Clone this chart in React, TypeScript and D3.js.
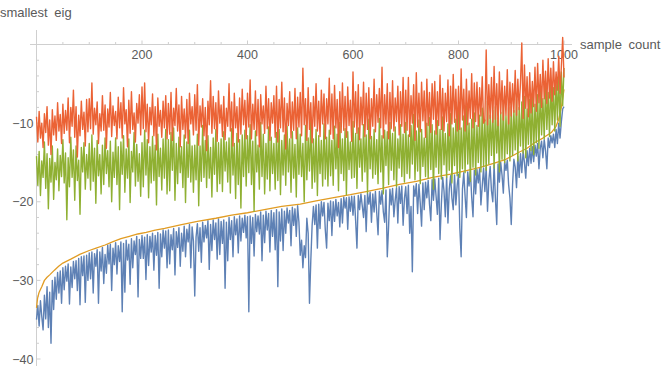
import * as d3 from "d3";

const W = 664;
const H = 369;

const COLORS = {
  blue: "#5E81B5",
  yellow: "#E19C24",
  green: "#8FB032",
  red: "#EB6235",
  axis: "#CFCFCF",
  text: "#5A5A5A",
};

// noisy series, read every 2.5 samples from 0 to 1000 (one row = 50 samples)
const redValues = [
  -9.2, -12.4, -8.5, -11.9, -10.0, -13.1, -8.8, -11.2, -7.9, -12.8, -9.6, -14.0, -8.3, -11.5, -9.1, -12.2, -7.4, -11.0, -8.9, -12.6,
  -7.6, -11.3, -8.4, -10.9, -6.8, -12.5, -8.0, -10.4, -5.8, -11.8, -7.9, -14.3, -9.0, -11.6, -7.2, -10.8, -8.6, -12.9, -7.0, -11.1,
  -6.9, -10.7, -4.9, -11.4, -8.1, -10.2, -7.3, -12.6, -8.8, -11.0, -6.5, -10.9, -7.7, -13.2, -8.2, -10.5, -6.1, -11.7, -7.8, -10.3,
  -8.5, -12.0, -6.7, -10.6, -7.4, -11.9, -5.5, -10.1, -8.3, -13.0, -7.1, -11.3, -6.0, -10.8, -8.7, -12.4, -7.5, -10.0, -6.4, -11.5,
  -5.4, -10.7, -4.9, -11.1, -7.6, -12.5, -8.0, -10.2, -6.3, -11.6, -7.9, -13.4, -6.8, -10.4, -8.4, -11.8, -7.2, -10.6, -6.5, -12.0,
  -7.5, -11.4, -6.1, -12.2, -8.1, -10.3, -5.6, -11.0, -7.7, -13.0, -6.6, -10.8, -8.2, -11.9, -7.0, -12.6, -6.2, -10.1, -7.9, -11.5,
  -6.4, -10.9, -5.1, -12.8, -7.8, -10.5, -6.9, -11.6, -8.0, -13.5, -7.2, -10.2, -4.6, -11.3, -6.6, -10.7, -7.4, -12.3, -5.9, -10.0,
  -7.7, -11.7, -6.6, -12.1, -8.1, -10.4, -5.0, -11.0, -7.3, -12.9, -6.2, -10.6, -7.9, -12.4, -6.8, -11.4, -5.7, -10.2, -7.1, -12.0,
  -6.2, -10.5, -4.5, -12.0, -7.6, -10.8, -5.9, -11.6, -7.0, -13.0, -6.4, -10.1, -7.8, -11.3, -5.3, -10.7, -6.9, -12.2, -7.4, -10.0,
  -6.5, -11.8, -5.3, -12.4, -7.0, -10.6, -4.8, -11.1, -6.8, -13.3, -7.5, -10.3, -6.0, -11.9, -7.3, -10.9, -5.6, -12.0, -6.7, -10.5,
  -6.1, -11.6, -3.0, -10.2, -6.9, -12.2, -5.5, -10.8, -7.4, -12.5, -6.6, -10.4, -5.0, -11.0, -7.2, -11.7, -5.8, -10.1, -6.3, -12.0,
  -6.9, -10.1, -4.3, -11.4, -6.3, -12.0, -5.2, -10.6, -7.0, -13.1, -6.0, -11.2, -4.9, -10.9, -6.6, -11.8, -5.4, -10.3, -7.1, -12.3,
  -3.5, -10.5, -6.0, -11.3, -5.1, -12.1, -6.7, -10.2, -4.8, -11.7, -6.2, -10.8, -5.5, -12.0, -6.9, -10.4, -4.4, -11.1, -6.4, -9.9,
  -5.6, -10.6, -2.9, -11.9, -6.4, -10.1, -5.0, -12.0, -6.1, -10.7, -4.6, -11.0, -6.8, -9.8, -5.3, -11.5, -6.0, -10.4, -4.2, -11.2,
  -5.8, -10.9, -4.2, -11.7, -6.5, -10.0, -5.1, -12.2, -3.6, -10.5, -6.2, -11.1, -4.8, -9.7, -5.9, -11.8, -4.4, -10.3, -6.1, -11.2,
  -5.0, -9.5, -4.7, -11.4, -6.0, -10.3, -3.9, -10.8, -5.6, -11.0, -6.2, -9.8, -4.5, -11.6, -5.3, -10.1, -3.8, -9.9, -5.7, -11.0,
  -5.3, -10.8, -3.1, -9.6, -5.7, -11.0, -4.4, -10.2, -5.9, -9.4, -3.7, -10.6, -4.9, -9.8, -4.8, -10.4, -5.5, -9.1, -4.1, -10.0,
  -9.7, -0.7, -10.2, -5.1, -9.4, -4.2, -9.9, -2.8, -9.5, -5.0, -10.3, -3.5, -8.8, -4.6, -9.6, -5.3, -9.0, -3.2, -10.1, -4.8,
  -9.1, -5.0, -8.6, -3.3, -9.0, -4.4, -8.3, -4.9, 0.2, -9.4, -2.6, -8.1, -4.1, -9.2, -3.6, -8.7, -4.7, -7.9, -2.9, -8.5,
  -2.4, -7.4, -3.8, -8.0, -2.0, -6.9, -3.4, -7.5, -1.8, -6.8, -3.0, -7.2, -2.2, -6.4, -3.5, -5.8, -1.5, -6.2, -2.8, 0.9,
  -4.2,
];

const greenValues = [
  -14.2, -17.9, -13.6, -19.2, -14.8, -16.9, -12.4, -18.3, -13.9, -20.9, -14.5, -17.5, -12.9, -19.7, -15.0, -17.2, -13.3, -18.6, -14.1, -16.8,
  -12.1, -17.6, -13.8, -22.3, -14.4, -18.1, -11.8, -16.9, -13.4, -19.8, -12.9, -17.3, -14.7, -21.6, -13.1, -16.2, -12.5, -18.4, -14.0, -17.0,
  -12.6, -18.5, -11.5, -17.4, -13.2, -20.2, -12.2, -16.7, -14.0, -19.0, -12.8, -17.8, -11.9, -16.4, -13.5, -18.1, -12.3, -20.0, -13.7, -16.9,
  -11.9, -17.8, -13.0, -21.0, -12.4, -16.5, -11.6, -18.8, -13.3, -17.0, -12.0, -20.1, -13.6, -16.2, -11.2, -18.0, -12.7, -17.4, -13.9, -19.3,
  -12.5, -18.1, -10.9, -16.6, -12.1, -19.5, -13.0, -17.6, -11.7, -17.3, -12.8, -20.4, -11.4, -16.8, -13.2, -18.5, -12.0, -17.0, -10.8, -19.0,
  -12.1, -18.6, -11.2, -16.0, -10.6, -19.8, -12.6, -17.7, -11.8, -16.3, -13.0, -18.2, -11.5, -20.1, -12.4, -16.9, -10.9, -17.5, -12.9, -18.8,
  -12.8, -17.2, -11.4, -20.5, -12.9, -17.4, -10.3, -16.9, -12.2, -18.2, -11.6, -17.0, -13.1, -19.4, -11.9, -16.5, -10.8, -18.7, -12.5, -17.7,
  -12.0, -18.7, -11.1, -16.1, -12.4, -17.5, -11.9, -18.9, -10.7, -16.6, -12.6, -19.6, -11.3, -17.8, -12.1, -20.8, -11.5, -16.8, -10.9, -18.0,
  -11.6, -16.3, -10.2, -17.8, -12.3, -21.2, -11.0, -16.2, -12.8, -18.4, -9.9, -16.8, -11.4, -19.0, -12.6, -17.1, -10.5, -18.6, -11.8, -16.4,
  -12.6, -18.4, -11.2, -17.3, -10.8, -19.1, -12.2, -16.6, -11.5, -17.9, -10.4, -16.2, -12.0, -18.8, -11.1, -17.0, -12.7, -19.4, -10.6, -16.5,
  -11.4, -16.8, -12.6, -20.0, -10.3, -17.2, -11.9, -16.1, -9.6, -18.3, -12.0, -17.5, -10.8, -19.2, -11.6, -16.4, -12.2, -18.0, -10.1, -17.1,
  -11.8, -18.0, -10.9, -16.7, -12.2, -17.9, -10.4, -15.8, -11.4, -18.6, -9.9, -16.4, -12.0, -17.3, -10.7, -19.1, -11.1, -15.9, -12.4, -17.0,
  -9.8, -16.9, -11.3, -18.3, -10.6, -15.6, -12.0, -17.4, -10.2, -16.2, -11.5, -18.9, -9.5, -15.8, -11.7, -17.0, -10.8, -16.5, -12.1, -17.7,
  -9.4, -16.2, -11.6, -19.0, -10.9, -15.4, -11.1, -17.8, -9.9, -16.0, -11.3, -17.2, -10.5, -18.1, -12.0, -15.7, -10.2, -16.8, -11.4, -17.5,
  -9.9, -16.4, -11.5, -17.0, -10.3, -15.2, -8.9, -17.2, -11.0, -16.1, -9.6, -17.7, -10.8, -15.5, -11.9, -16.8, -10.0, -17.0, -9.3, -15.9,
  -10.2, -18.4, -11.0, -15.6, -9.7, -16.4, -10.8, -17.1, -9.2, -15.3, -11.3, -16.9, -10.1, -16.0, -8.8, -17.6, -10.6, -15.4, -9.5, -16.7,
  -8.4, -16.9, -10.6, -15.8, -9.1, -16.3, -7.8, -15.2, -10.0, -17.4, -9.5, -15.6, -8.7, -16.6, -10.3, -15.0, -9.0, -16.2, -8.1, -15.5,
  -9.6, -16.0, -7.2, -15.2, -9.0, -14.1, -8.4, -15.7, -7.9, -13.8, -9.3, -16.2, -8.6, -14.6, -7.5, -15.0, -9.1, -13.9, -8.0, -14.8,
  -7.9, -14.1, -8.4, -13.4, -6.9, -14.8, -8.0, -12.9, -7.3, -13.8, -6.6, -14.4, -8.2, -12.7, -7.0, -13.5, -6.2, -14.0, -7.6, -12.5,
  -6.4, -13.2, -5.8, -11.5, -6.9, -12.0, -5.2, -10.8, -6.1, -11.7, -4.9, -10.2, -5.5, -11.0, -4.6, -9.6, -4.0, -10.4, -3.5, -7.8,
  -3.0,
];

const blueValues = [
  -35.0, -33.2, -35.8, -32.6, -34.6, -36.3, -31.9, -34.9, -30.8, -36.0, -31.5, -38.0, -30.0, -33.7, -29.6, -32.4, -29.0, -31.6, -28.8, -32.9,
  -28.4, -31.2, -28.2, -30.1, -27.9, -33.0, -28.3, -30.9, -27.6, -29.8, -27.5, -31.3, -27.2, -33.1, -27.0, -29.4, -26.9, -32.8, -26.8, -30.0,
  -26.5, -29.8, -26.4, -31.6, -26.6, -28.2, -26.1, -32.9, -26.4, -28.8, -25.8, -30.4, -26.7, -29.1, -25.5, -27.9, -25.4, -31.3, -25.9, -28.0,
  -25.2, -29.2, -25.6, -27.6, -25.1, -34.0, -25.3, -31.5, -24.9, -27.4, -25.4, -30.5, -24.7, -28.4, -25.0, -26.7, -24.4, -32.1, -24.8, -27.2,
  -24.3, -27.2, -24.5, -29.9, -24.2, -28.1, -24.4, -26.4, -24.0, -28.7, -24.3, -26.8, -23.9, -31.0, -24.1, -27.0, -23.6, -25.9, -23.7, -28.4,
  -23.6, -27.9, -24.2, -26.1, -23.4, -29.3, -23.8, -25.8, -23.3, -28.2, -24.0, -26.3, -23.1, -27.0, -23.5, -25.1, -22.9, -28.4, -23.2, -25.0,
  -32.0, -24.5, -22.8, -26.3, -23.3, -27.7, -22.6, -25.1, -23.0, -24.6, -22.4, -28.6, -22.9, -26.2, -22.3, -24.8, -22.7, -27.3, -22.2, -26.7,
  -22.5, -25.3, -22.3, -31.0, -22.6, -27.5, -22.0, -24.8, -22.4, -27.0, -21.9, -24.2, -22.2, -26.5, -21.8, -25.0, -22.1, -23.9, -21.7, -24.6,
  -21.9, -34.0, -21.8, -25.3, -22.0, -26.9, -21.6, -23.8, -21.8, -24.1, -21.3, -27.5, -21.7, -25.2, -21.2, -23.6, -21.5, -26.4, -21.1, -24.4,
  -21.4, -26.1, -21.0, -30.8, -21.3, -25.0, -20.9, -26.2, -21.2, -24.0, -20.8, -22.7, -21.1, -25.6, -20.7, -23.0, -20.9, -24.4, -20.5, -22.6,
  -26.8, -24.9, -28.4, -25.6, -27.1, -22.1, -24.0, -32.9, -27.5, -23.0, -20.6, -22.9, -20.4, -25.9, -20.3, -23.4, -20.0, -21.8, -20.1, -23.6,
  -25.9, -20.2, -22.4, -19.9, -24.3, -20.0, -22.5, -19.7, -21.8, -20.1, -23.2, -19.6, -22.7, -19.4, -20.8, -19.5, -23.5, -19.4, -21.2, -19.3,
  -21.7, -19.3, -22.4, -25.9, -19.2, -21.0, -19.0, -20.5, -22.0, -19.2, -23.8, -18.9, -20.3, -18.8, -22.6, -19.0, -21.3, -18.7, -21.4, -24.2,
  -18.7, -20.3, -18.6, -21.3, -22.6, -18.5, -27.0, -23.1, -18.4, -20.4, -18.3, -21.9, -19.8, -18.2, -22.7, -18.1, -20.2, -18.0, -23.0, -19.6,
  -18.1, -21.5, -17.9, -24.0, -20.6, -28.9, -18.0, -19.3, -17.7, -21.5, -17.8, -20.2, -23.1, -17.6, -21.0, -17.5, -19.5, -17.3, -20.3, -22.4,
  -17.2, -19.8, -17.1, -19.3, -21.6, -17.0, -24.8, -20.3, -16.9, -18.6, -21.9, -16.8, -22.7, -18.4, -16.7, -19.5, -21.0, -16.6, -20.4, -17.9,
  -16.5, -23.3, -27.0, -18.4, -16.3, -19.3, -22.0, -16.2, -18.0, -16.1, -19.4, -21.9, -16.0, -19.0, -15.9, -17.6, -15.8, -20.4, -18.0, -15.7,
  -18.7, -15.6, -21.2, -17.3, -15.5, -18.6, -20.0, -15.3, -19.6, -22.9, -15.2, -17.5, -15.0, -16.6, -18.9, -14.9, -16.0, -14.7, -17.8, -19.5,
  -22.9, -17.8, -14.6, -15.6, -18.2, -14.2, -16.9, -13.9, -16.3, -13.6, -15.0, -17.0, -13.5, -15.4, -13.2, -15.1, -13.0, -14.9, -12.8, -14.2,
  -12.6, -15.8, -13.2, -12.3, -14.4, -12.1, -13.5, -15.8, -11.9, -13.1, -11.6, -12.5, -11.4, -13.1, -10.8, -12.6, -10.0, -11.9, -9.8, -8.2,
  -7.9,
];

// sorted curve, read at uneven sample positions
const yellowX = [
  0, 2, 5, 10, 15, 20, 25, 34, 42, 50, 65, 82, 100, 113, 130, 144, 160, 176, 192, 208, 225, 243, 275, 305, 340, 370,
  400, 432, 465, 500, 530, 561, 595, 625, 655, 688, 720, 751, 785, 817, 843, 868, 890, 912, 930, 944, 960, 976, 985,
  990, 995, 1000,
];
const yellowY = [
  -33.5, -32.3, -31.5, -30.8, -30.0, -29.6, -29.3, -28.7, -28.2, -27.8, -27.3, -26.7, -26.2, -25.9, -25.5, -25.1,
  -24.7, -24.4, -24.1, -23.9, -23.6, -23.4, -22.9, -22.5, -22.1, -21.7, -21.4, -21.0, -20.6, -20.3, -19.9, -19.5,
  -19.1, -18.7, -18.3, -17.8, -17.4, -16.9, -16.5, -16.0, -15.6, -15.1, -14.6, -13.8, -13.2, -12.5, -11.9, -11.2,
  -10.4, -9.5, -8.0, -5.7,
];

const xTicks = [200, 400, 600, 800, 1000];
const yTicks = [-10, -20, -30, -40];

const X_LABEL = "sample count";
const Y_LABEL = "smallest eig";

export default function App() {
  const x = d3.scaleLinear().domain([0, 1000]).range([36.5, 564]);
  const y = d3.scaleLinear().domain([0, -40]).range([44.5, 359]);

  const line = d3
    .line<[number, number]>()
    .x((d) => x(d[0]))
    .y((d) => y(d[1]));

  // spread the readings evenly over 0..1000
  const toPts = (vals: number[]): [number, number][] =>
    vals.map((v, i) => [(i * 1000) / (vals.length - 1), v]);

  const series = [
    { pts: toPts(blueValues), color: COLORS.blue, w: 1.4 },
    { pts: yellowX.map((xv, i) => [xv, yellowY[i]] as [number, number]), color: COLORS.yellow, w: 1.3 },
    { pts: toPts(greenValues), color: COLORS.green, w: 1.4 },
    { pts: toPts(redValues), color: COLORS.red, w: 1.4 },
  ];

  const minorX = d3.range(50, 1001, 50).filter((v) => v % 200 !== 0);
  const minorY = d3.range(-2, -41, -2).filter((v) => v % 10 !== 0);

  const font = "'Liberation Sans', Arial, sans-serif";

  return (
    <svg
      width={W}
      height={H}
      style={{ position: "absolute", left: 0, top: 0, display: "block", background: "#fff" }}
      fontFamily={font}
    >
      {/* axes */}
      <line x1={30} x2={572} y1={y(0)} y2={y(0)} stroke={COLORS.axis} strokeWidth={1} />
      <line x1={x(0)} x2={x(0)} y1={30} y2={366} stroke={COLORS.axis} strokeWidth={1} />

      {xTicks.map((t) => (
        <g key={"xt" + t}>
          <line x1={x(t)} x2={x(t)} y1={y(0)} y2={y(0) - 4} stroke={COLORS.axis} />
          <text x={x(t)} y={y(0) + 14} textAnchor="middle" fontSize={12.5} fill={COLORS.text}>
            {t}
          </text>
        </g>
      ))}
      {minorX.map((t) => (
        <line key={"xm" + t} x1={x(t)} x2={x(t)} y1={y(0)} y2={y(0) - 2.5} stroke={COLORS.axis} />
      ))}

      {yTicks.map((t) => (
        <g key={"yt" + t}>
          <line x1={x(0)} x2={x(0) + 4} y1={y(t)} y2={y(t)} stroke={COLORS.axis} />
          <text x={x(0) - 3} y={y(t) + 4.5} textAnchor="end" fontSize={12.5} fill={COLORS.text}>
            {"\u2212" + Math.abs(t)}
          </text>
        </g>
      ))}
      {minorY.map((t) => (
        <line key={"ym" + t} x1={x(0)} x2={x(0) + 2.5} y1={y(t)} y2={y(t)} stroke={COLORS.axis} />
      ))}

      {/* data */}
      {series.map((s, i) => (
        <path
          key={i}
          d={line(s.pts) ?? ""}
          fill="none"
          stroke={s.color}
          strokeWidth={s.w}
          strokeLinejoin="round"
        />
      ))}

      {/* axis labels */}
      <text x={0} y={17} fontSize={13} fill={COLORS.text} wordSpacing={3}>
        {Y_LABEL}
      </text>
      <text x={580} y={49} fontSize={13} fill={COLORS.text} wordSpacing={3}>
        {X_LABEL}
      </text>
    </svg>
  );
}
